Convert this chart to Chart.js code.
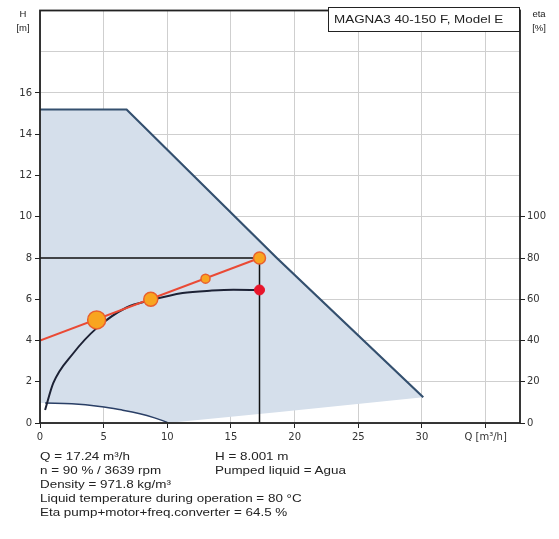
<!DOCTYPE html>
<html>
<head>
<meta charset="utf-8">
<script src="https://cdn.jsdelivr.net/npm/chart.js@4.4.1/dist/chart.umd.min.js"></script>
<style>
  body { margin: 0; background: #fff; }
  #wrap { position: relative; width: 559px; height: 539px; font-family: "Liberation Sans", Arial, sans-serif; color: #222; }
  .lbl { position: absolute; font-size: 9.5px; text-align: center; line-height: 14px; }
  .info { position: absolute; font-size: 11px; white-space: nowrap; line-height: 14px; transform: scaleX(1.22); transform-origin: left center; }
  #model { position: absolute; left: 328px; top: 7px; width: 190px; height: 23px; border: 1.5px solid #222; background: #fff; }
  #model span { position: absolute; left: 5px; top: 0; font-size: 11px; line-height: 23px; white-space: nowrap; transform: scaleX(1.22); transform-origin: left center; }
</style>
</head>
<body>
<div id="wrap">
  <canvas id="pumpChart" width="559" height="539"></canvas>
  <div class="lbl" style="left:13px; top:7px; width:20px;">H<br>[m]</div>
  <div class="lbl" style="left:528px; top:7px; width:22px;">eta<br>[%]</div>
  <div id="model"><span>MAGNA3 40-150 F, Model E</span></div>
  <div class="info" style="left:40px; top:449px;">Q = 17.24 m³/h</div>
  <div class="info" style="left:215px; top:449px;">H = 8.001 m</div>
  <div class="info" style="left:40px; top:463px;">n = 90 % / 3639 rpm</div>
  <div class="info" style="left:215px; top:463px;">Pumped liquid = Agua</div>
  <div class="info" style="left:40px; top:477px;">Density = 971.8 kg/m³</div>
  <div class="info" style="left:40px; top:491px;">Liquid temperature during operation = 80 °C</div>
  <div class="info" style="left:40px; top:505px;">Eta pump+motor+freq.converter = 64.5 %</div>
</div>
<script>
// axis ticks
const qTicks = [0, 5, 10, 15, 20, 25, 30, 35];
const hTicks = [0, 2, 4, 6, 8, 10, 12, 14, 16, 18, 20];
const etaTicks = [0, 20, 40, 60, 80, 100];

// max curve (Q, H)
const maxQ = [0, 6.8, 18.6, 30.1];
const maxH = [15.2, 15.2, 8.0, 1.25];

// min curve (Q, H)
const minQ = [0.4, 2.5, 4.7, 6.5, 7.85, 9.0, 10.0];
const minH = [0.97, 0.93, 0.8, 0.62, 0.45, 0.25, 0.03];

// lower edge of operating area beyond min curve
const edgeQ = [10.0, 18.8, 30.1];
const edgeH = [0.0, 0.53, 1.25];

// eta curve (Q, %)
const etaQ = [0.4, 1.04, 2.6, 4.45, 6.8, 8.7, 11.2, 13.5, 15.2, 17.24];
const etaV = [6.3, 19.3, 33.7, 46, 56, 59.5, 63, 64.2, 64.6, 64.5];

// system curve and marked points
const sysQ = [0, 17.24];
const sysH = [4, 8];
const markQ = [4.45, 8.7, 13.0, 17.24];
const markH = [5.0, 6.0, 7.0, 8.0];
const markR = [9, 7, 4.5, 6];

// duty point
const dutyQ = 17.24;
const dutyH = 8.001;
const dutyEta = 64.5;

const pts = (xs, ys) => xs.map((x, i) => ({ x: x, y: ys[i] }));

const shape = pts(maxQ, maxH)
  .concat(pts(edgeQ, edgeH).reverse())
  .concat(pts(minQ, minH).reverse())
  .concat([{ x: 0, y: minH[0] }]);

const frame = {
  id: "frame",
  afterDatasetsDraw(chart) {
    const a = chart.chartArea;
    const c = chart.ctx;
    c.save();
    c.strokeStyle = "#222";
    c.lineWidth = 1.8;
    c.strokeRect(a.left, a.top, a.right - a.left, a.bottom - a.top);
    c.restore();
  },
};

const tickFont = { family: "'DejaVu Sans', sans-serif", size: 10 };

new Chart(document.getElementById("pumpChart"), {
  type: "line",
  data: {
    datasets: [
      {
        data: shape,
        fill: "shape",
        backgroundColor: "#d5dfeb",
        borderWidth: 0,
        pointRadius: 0,
        order: 10,
      },
      {
        data: pts(maxQ, maxH),
        borderColor: "#34506f",
        borderWidth: 2.2,
        pointRadius: 0,
        order: 5,
      },
      {
        data: pts(minQ, minH),
        borderColor: "#2a3f66",
        borderWidth: 1.5,
        pointRadius: 0,
        tension: 0.4,
        order: 5,
      },
      {
        data: pts(etaQ, etaV),
        yAxisID: "y2",
        borderColor: "#1d2235",
        borderWidth: 2,
        pointRadius: 0,
        cubicInterpolationMode: "monotone",
        order: 4,
      },
      {
        data: [{ x: 0, y: dutyH }, { x: dutyQ, y: dutyH }, { x: dutyQ, y: 0 }],
        borderColor: "#111",
        borderWidth: 1.5,
        pointRadius: 0,
        order: 3,
      },
      {
        data: pts(sysQ, sysH),
        borderColor: "#ea4a35",
        borderWidth: 2,
        pointRadius: 0,
        order: 2,
      },
      {
        data: pts(markQ, markH),
        showLine: false,
        pointRadius: markR,
        pointBackgroundColor: "#f8a520",
        pointBorderColor: "#e9602d",
        pointBorderWidth: 1.5,
        order: 1,
      },
      {
        data: [{ x: dutyQ, y: dutyEta }],
        yAxisID: "y2",
        showLine: false,
        pointRadius: 5,
        pointBackgroundColor: "#e8152a",
        pointBorderColor: "#e8152a",
        order: 1,
      },
    ],
  },
  options: {
    responsive: false,
    animation: false,
    layout: { padding: { top: 8, bottom: 96 } },
    plugins: { legend: { display: false }, tooltip: { enabled: false } },
    scales: {
      x: {
        type: "linear",
        min: 0,
        max: 37.7,
        afterBuildTicks: (s) => { s.ticks = qTicks.map((v) => ({ value: v })); },
        afterFit: (s) => { s.height = 20; },
        border: { display: false },
        grid: { color: "#cfcfcf", tickColor: "#222", tickLength: 5 },
        ticks: {
          color: "#333",
          font: tickFont,
          padding: 3,
          maxRotation: 0,
          callback: (v) => (v === 35 ? "Q [m³/h]" : String(v)),
        },
      },
      y: {
        min: 0,
        max: 20,
        afterBuildTicks: (s) => { s.ticks = hTicks.map((v) => ({ value: v })); },
        afterFit: (s) => { s.width = 40; },
        border: { display: false },
        grid: {
          color: "#cfcfcf",
          tickLength: 5,
          tickColor: (ctx) => (ctx.tick && ctx.tick.value > 16 ? "rgba(0,0,0,0)" : "#222"),
        },
        ticks: {
          color: "#333",
          font: tickFont,
          padding: 3,
          callback: (v) => (v > 16 ? "" : String(v)),
        },
      },
      y2: {
        position: "right",
        min: 0,
        max: 200,
        afterBuildTicks: (s) => { s.ticks = etaTicks.map((v) => ({ value: v })); },
        afterFit: (s) => { s.width = 39; },
        border: { display: false },
        grid: { drawOnChartArea: false, tickColor: "#222", tickLength: 5 },
        ticks: { color: "#333", font: tickFont, padding: 2 },
      },
    },
  },
  plugins: [frame],
});
</script>
</body>
</html>
